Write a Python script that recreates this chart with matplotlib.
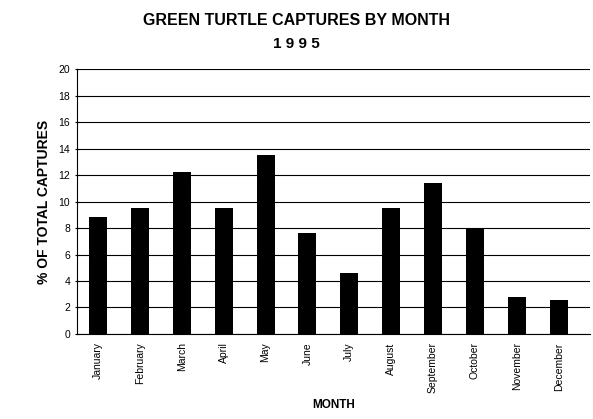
import matplotlib.pyplot as plt

months = ['January', 'February', 'March', 'April', 'May', 'June', 'July',
          'August', 'September', 'October', 'November', 'December']
pct_captures = [8.8, 9.5, 12.2, 9.5, 13.5, 7.6, 4.6, 9.5, 11.4, 8.0, 2.8, 2.6]
y_ticks = [0, 2, 4, 6, 8, 10, 12, 14, 16, 18, 20]

plt.rcParams['font.family'] = ['Liberation Sans', 'DejaVu Sans']

fig = plt.figure(figsize=(5.93, 4.19), dpi=100)
ax = fig.add_axes([0.130, 0.203, 0.865, 0.632])

x = list(range(len(months)))
ax.bar(x, pct_captures, width=0.43, color='black', zorder=3)

ax.set_ylim(0, 20)
ax.set_xlim(-0.5, 11.75)
ax.set_yticks(y_ticks)
ax.set_yticklabels([str(t) for t in y_ticks], fontsize=7.5)
ax.yaxis.grid(True, color='black', linewidth=0.8, zorder=0)
ax.set_xticks(x)
ax.set_xticklabels(months, rotation=90, fontsize=7.5)
ax.tick_params(axis='x', length=0, pad=6)
ax.tick_params(axis='y', length=3, direction='inout', width=0.8)

for side in ['top', 'right']:
    ax.spines[side].set_visible(False)
ax.spines['left'].set_linewidth(0.8)
ax.spines['bottom'].set_linewidth(0.8)

ax.set_ylabel('% OF TOTAL CAPTURES', fontsize=10, fontweight='bold', labelpad=5)
ax.set_xlabel('MONTH', fontsize=8.5, fontweight='bold', labelpad=4)

fig.text(0.5, 0.952, 'GREEN TURTLE CAPTURES BY MONTH', ha='center', va='center',
         fontsize=11.5, fontweight='bold')
fig.text(0.5, 0.895, '1  9  9  5'.replace('  ', ' '), ha='center', va='center',
         fontsize=11, fontweight='bold')

fig.savefig('out.png', dpi=100)
